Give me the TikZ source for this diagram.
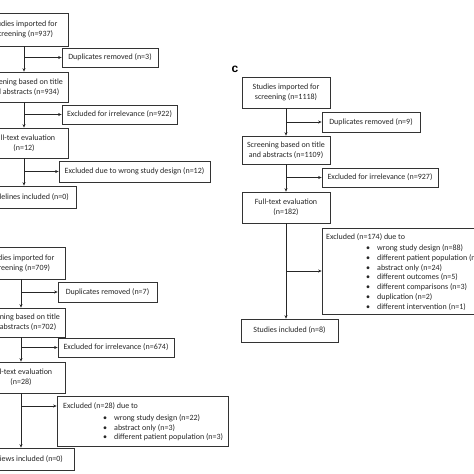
\documentclass[tikz,border=0pt]{standalone}
\usepackage{fontspec}
\setmainfont{Carlito}
\newfontfamily\labfont{Liberation Sans}
\usetikzlibrary{arrows.meta}
\begin{document}
\begin{tikzpicture}[x=1pt,y=-1pt,
  box/.style={draw=black!80, line width=0.7pt, fill=white, align=center, inner sep=0pt,
    font=\fontsize{8}{10}\selectfont, text=black!85},
  listtext/.style={anchor=north west, align=left, inner sep=0pt,
    font=\fontsize{8}{9.8}\selectfont, text=black!85},
  arr/.style={draw=black!85, line width=0.7pt, -{Stealth[length=3.5pt,width=3pt]}},
  ln/.style={draw=black!85, line width=0.7pt}]
\useasboundingbox (0,0) rectangle (474,474);
\clip (0,0) rectangle (474,474);

% ---------- panel a ----------
\node[box, minimum width=88pt, minimum height=33pt] (a1) at (24,29.5) {Studies imported for\\screening (n=937)};
\node[box, minimum width=96pt, minimum height=19pt] (adup) at (110,57.5) {Duplicates removed (n=3)};
\node[box, minimum width=88pt, minimum height=30pt] (a2) at (24,87) {Screening based on title\\and abstracts (n=934)};
\node[box, minimum width=115pt, minimum height=19pt] (aexc) at (119.5,114.5) {Excluded for irrelevance (n=922)};
\node[box, minimum width=88pt, minimum height=30pt] (a3) at (24,143) {Full-text evaluation\\(n=12)};
\node[box, minimum width=151pt, minimum height=21pt] (adesign) at (134.5,171.5) {Excluded due to wrong study design (n=12)};
\node[box, minimum width=97pt, minimum height=22pt] (a4) at (27.5,197) {Guidelines included (n=0)};

\draw[arr] (a1.south) -- (a2.north);
\draw[arr] (a1.south |- adup) -- (adup.west);
\draw[arr] (a2.south) -- (a3.north);
\draw[arr] (a2.south |- aexc) -- (aexc.west);
\draw[arr] (a3.south) -- (a3.south |- a4.north);
\draw[arr] (a3.south |- adesign) -- (adesign.west);

% ---------- panel b ----------
\node[box, minimum width=88pt, minimum height=32pt] (b1) at (21,263) {Studies imported for\\screening (n=709)};
\node[box, minimum width=99pt, minimum height=20pt] (bdup) at (107.5,292) {Duplicates removed (n=7)};
\node[box, minimum width=88pt, minimum height=29pt] (b2) at (21,322.5) {Screening based on title\\and abstracts (n=702)};
\node[box, minimum width=116pt, minimum height=19pt] (bexc) at (116,347.5) {Excluded for irrelevance (n=674)};
\node[box, minimum width=88pt, minimum height=31pt] (b3) at (21,377.5) {Full-text evaluation\\(n=28)};
\node[box, minimum width=171pt, minimum height=50pt] (bexc2) at (142.5,421) {};
\node[listtext] (btxt) at (63,402.5) {Excluded (n=28) due to\\[2pt]
  \hspace{40pt}\textbullet\hspace{7pt}wrong study design (n=22)\\
  \hspace{40pt}\textbullet\hspace{7pt}abstract only (n=3)\\
  \hspace{40pt}\textbullet\hspace{7pt}different patient population (n=3)};
\node[box, minimum width=97pt, minimum height=22pt] (b4) at (25.5,459) {Reviews included (n=0)};
\coordinate (bj) at (21,406);

\draw[arr] (b1.south) -- (b2.north);
\draw[arr] (b1.south |- bdup) -- (bdup.west);
\draw[arr] (b2.south) -- (b3.north);
\draw[arr] (b2.south |- bexc) -- (bexc.west);
\draw[arr] (b3.south) -- (b3.south |- b4.north);
\draw[arr] (bj) -- (bj -| bexc2.west);

% ---------- panel c ----------
\node[font=\labfont\bfseries\fontsize{12}{12}\selectfont, inner sep=0pt] (clab) at (235,69.5) {c};
\node[box, minimum width=88pt, minimum height=31pt] (c1) at (286,92.5) {Studies imported for\\screening (n=1118)};
\node[box, minimum width=98pt, minimum height=20pt] (cdup) at (371,122) {Duplicates removed (n=9)};
\node[box, minimum width=88pt, minimum height=28pt] (c2) at (286,150) {Screening based on title\\and abstracts (n=1109)};
\node[box, minimum width=116pt, minimum height=19pt] (cexc) at (380,177.5) {Excluded for irrelevance (n=927)};
\node[box, minimum width=88pt, minimum height=31pt] (c3) at (286,207.5) {Full-text evaluation\\(n=182)};
\node[box, minimum width=178pt, minimum height=86pt] (cexc2) at (411,271) {};
\node[listtext] (ctxt) at (326,233.5) {Excluded (n=174) due to\\[1.2pt]
  \hspace{40pt}\textbullet\hspace{7pt}wrong study design (n=88)\\
  \hspace{40pt}\textbullet\hspace{7pt}different patient population (n=51)\\
  \hspace{40pt}\textbullet\hspace{7pt}abstract only (n=24)\\
  \hspace{40pt}\textbullet\hspace{7pt}different outcomes (n=5)\\
  \hspace{40pt}\textbullet\hspace{7pt}different comparisons (n=3)\\
  \hspace{40pt}\textbullet\hspace{7pt}duplication (n=2)\\
  \hspace{40pt}\textbullet\hspace{7pt}different intervention (n=1)};
\node[box, minimum width=97pt, minimum height=23pt] (c4) at (289.5,330.5) {Studies included (n=8)};

\draw[arr] (c1.south) -- (c2.north);
\draw[arr] (c1.south |- cdup) -- (cdup.west);
\draw[arr] (c2.south) -- (c3.north);
\draw[arr] (c2.south |- cexc) -- (cexc.west);
\draw[arr] (c3.south) -- (c3.south |- c4.north);
\draw[arr] (c3.south |- cexc2) -- (cexc2.west);
\end{tikzpicture}
\end{document}
